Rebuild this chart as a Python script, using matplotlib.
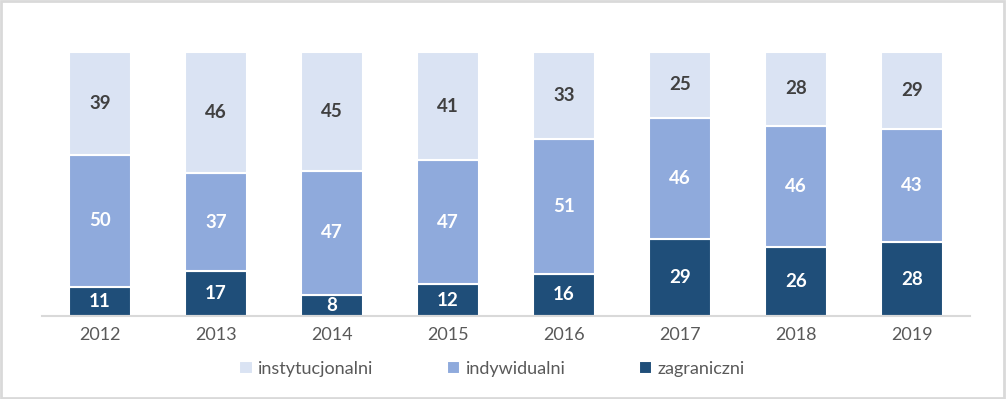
import matplotlib.pyplot as plt
import numpy as np
from matplotlib.patches import Rectangle

plt.rcParams['font.family'] = ['Lato', 'DejaVu Sans']

years = ['2012', '2013', '2014', '2015', '2016', '2017', '2018', '2019']
zagraniczni = [11, 17, 8, 12, 16, 29, 26, 28]
indywidualni = [50, 37, 47, 47, 51, 46, 46, 43]
instytucjonalni = [39, 46, 45, 41, 33, 25, 28, 29]

c_dark = '#1F4E79'
c_mid = '#8FAADC'
c_light = '#DAE3F3'

fig = plt.figure(figsize=(10.06, 3.99), dpi=100)
ax = fig.add_axes([42/1006, 83/399, 928/1006, 264/399])

x = np.arange(len(years))
w = 0.54
zag = np.array(zagraniczni)
ind = np.array(indywidualni)
ins = np.array(instytucjonalni)

b1 = ax.bar(x, zag, w, color=c_dark, edgecolor='white', linewidth=1.5, label='zagraniczni')
b2 = ax.bar(x, ind, w, bottom=zag, color=c_mid, edgecolor='white', linewidth=1.5, label='indywidualni')
b3 = ax.bar(x, ins, w, bottom=zag + ind, color=c_light, edgecolor='white', linewidth=1.5, label='instytucjonalni')

for i in range(len(years)):
    ax.text(x[i], zag[i] / 2, str(zag[i]), ha='center', va='center',
            color='white', fontsize=13.5, fontweight='bold')
    ax.text(x[i], zag[i] + ind[i] / 2, str(ind[i]), ha='center', va='center',
            color='white', fontsize=13.5, fontweight='bold')
    ax.text(x[i], zag[i] + ind[i] + ins[i] / 2, str(ins[i]), ha='center', va='center',
            color='#404040', fontsize=13.5, fontweight='bold')

ax.set_xlim(-0.5, len(years) - 0.5)
ax.set_ylim(0, 100)
ax.set_xticks(x)
ax.set_xticklabels(years, fontsize=13, color='#595959')
ax.tick_params(axis='x', length=0, pad=8)
ax.set_yticks([])
for s in ['top', 'right', 'left']:
    ax.spines[s].set_visible(False)
ax.spines['bottom'].set_color('#D9D9D9')
ax.spines['bottom'].set_linewidth(1.5)

handles = [b3, b2, b1]
fig.legend(handles, ['instytucjonalni', 'indywidualni', 'zagraniczni'],
           loc='center', bbox_to_anchor=(492/1006, 1 - 369/399), ncol=3,
           frameon=False, fontsize=13, labelcolor='#595959',
           handlelength=0.75, handleheight=0.75, handletextpad=0.3, columnspacing=4.05)

fig.patches.append(Rectangle((0.001, 0.002), 0.997, 0.995, transform=fig.transFigure,
                             fill=False, edgecolor='#D9D9D9', linewidth=2))

fig.savefig('out.png', dpi=100)
